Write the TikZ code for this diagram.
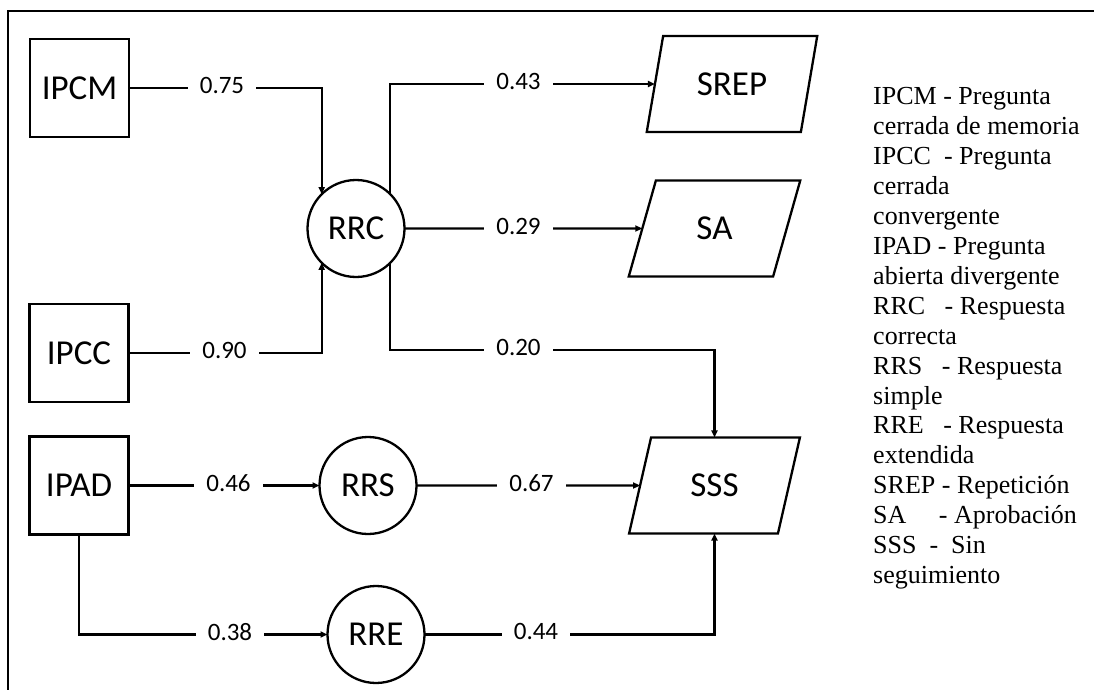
\documentclass[tikz,border=0pt]{standalone}
\usepackage{fontspec}
\setmainfont{Liberation Serif}
\newfontfamily\diagfont{Carlito}
\usetikzlibrary{arrows.meta,shapes.geometric}
\begin{document}
\begin{tikzpicture}[x=1pt,y=-1pt,
  nodefont/.style={font=\diagfont\fontsize{35}{40}\selectfont},
  boxnode/.style={draw, line width=2.3pt, minimum width=99pt, minimum height=98pt, inner sep=0pt, outer sep=0pt, nodefont},
  circnode/.style={draw, circle, line width=2.3pt, minimum size=97pt, inner sep=0pt, outer sep=0pt, nodefont},
  paranode/.style={draw, trapezium, trapezium left angle=70, trapezium right angle=110, trapezium stretches=true, minimum width=172pt, minimum height=96pt, inner sep=0pt, outer sep=0pt, line width=2.3pt, nodefont},
  conn/.style={line width=2.3pt},
  arr/.style={conn, -{Triangle[length=7pt,width=6pt]}},
  lbl/.style={fill=white, inner xsep=12pt, inner ysep=2pt, font=\diagfont\fontsize{25}{30}\selectfont},
  legend/.style={inner sep=0pt, anchor=base west, font=\fontsize{26}{30}\selectfont}
]
\useasboundingbox (0,0) rectangle (1094,690);
\clip (0,0) rectangle (1094,690);
\fill[white] (0,0) rectangle (1094,690);
% frame
\draw[line width=1.8pt] (8,700) -- (8,11) -- (1094,11);

% nodes
\node[boxnode] (IPCM) at (79.5,88) {IPCM};
\node[boxnode] (IPCC) at (79,353) {IPCC};
\node[boxnode] (IPAD) at (79,485.5) {IPAD};
\node[circnode] (RRC) at (356,228.5) {RRC};
\node[circnode] (RRS) at (368,485.5) {RRS};
\node[circnode] (RRE) at (376,634.5) {RRE};
\node[paranode] (SREP) at (732,84) {SREP};
\node[paranode] (SA) at (714.5,228.5) {SA};
\node[paranode] (SSS) at (714.5,485.5) {SSS};
\coordinate (j20) at (714.5,350);

% connectors
\draw[arr] (IPCM.east) -| (RRC.north west);
\draw[arr] (IPCC.east) -| (RRC.south west);
\draw[arr] (RRC.north east) |- (SREP.west);
\draw[arr] (RRC.east) -- (SA.west);
\draw[arr] (RRC.south east) |- (j20) -- (SSS.center |- SSS.north);
\draw[arr] (IPAD.east) -- (RRS.west);
\draw[arr] (IPAD.south) |- (RRE.west);
\draw[arr] (RRS.east) -- (SSS.west);
\draw[arr] (RRE.east) -| (SSS.center |- SSS.south);

% labels
\node[lbl] (l75) at (222,85.5) {0.75};
\node[lbl] (l90) at (224.5,350.5) {0.90};
\node[lbl] (l46) at (228.5,483) {0.46};
\node[lbl] (l38) at (230,632.5) {0.38};
\node[lbl] (l43) at (518.5,81.5) {0.43};
\node[lbl] (l29) at (518.5,226) {0.29};
\node[lbl] (l20) at (518.5,347.5) {0.20};
\node[lbl] (l67) at (531.5,483.5) {0.67};
\node[lbl] (l44) at (536,631.5) {0.44};

% legend
\foreach \t [count=\i from 0] in {
  IPCM - Pregunta,
  cerrada de memoria,
  IPCC\ \ - Pregunta,
  cerrada,
  convergente,
  IPAD - Pregunta,
  abierta divergente,
  RRC\ \ \ - Respuesta,
  correcta,
  RRS\ \ \ - Respuesta,
  simple,
  RRE\ \ \ - Respuesta,
  extendida,
  SREP - Repetición,
  SA\ \ \ \ \ - Aprobación,
  SSS\ \ -\ \ Sin,
  seguimiento}
  \node[legend] (leg\i) at (873,{105+29.9*\i}) {\t};
\end{tikzpicture}
\end{document}
